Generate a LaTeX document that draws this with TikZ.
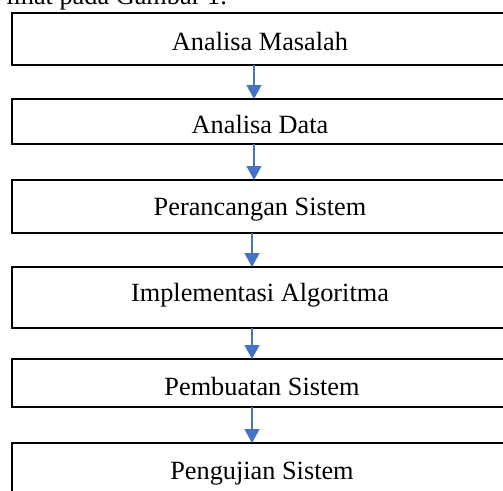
\documentclass[tikz,border=0pt]{standalone}
\usepackage{fontspec}
\setmainfont{Liberation Serif}
\usetikzlibrary{arrows.meta}
\definecolor{arrblue}{HTML}{4472C4}
\tikzset{
  stagebox/.style={draw=black, line width=2pt, rectangle, inner sep=0pt, outer sep=0pt, minimum width=498pt},
  stagetext/.style={anchor=base, inner sep=0pt, font=\fontsize{26.3pt}{30pt}\selectfont},
  flowarr/.style={draw=arrblue, line width=1.2pt, -{Triangle[width=15pt,length=14pt]}}
}
\begin{document}
\begin{tikzpicture}[x=1pt,y=-1pt]
\useasboundingbox (0,0) rectangle (503,490);
\clip (0,0) rectangle (503,490);
\node[stagetext, anchor=base east] (intro) at (227,4) {lihat pada Gambar 1.};
\node[stagebox, minimum height=52pt] (b1) at (261,39) {};
\node[stagebox, minimum height=45pt] (b2) at (261,121.5) {};
\node[stagebox, minimum height=53pt] (b3) at (261,206.5) {};
\node[stagebox, minimum height=61pt] (b4) at (261,297.5) {};
\node[stagebox, minimum height=48pt] (b5) at (261,383) {};
\node[stagebox, minimum height=57pt] (b6) at (261,471.5) {};
\node[stagetext] (t1) at (260,50) {Analisa Masalah};
\node[stagetext] (t2) at (260,133.3) {Analisa Data};
\node[stagetext] (t3) at (260,215) {Perancangan Sistem};
\node[stagetext] (t4) at (260,301.7) {Implementasi Algoritma};
\node[stagetext] (t5) at (262,395) {Pembuatan Sistem};
\node[stagetext] (t6) at (262,479) {Pengujian Sistem};
\coordinate (xa) at (254,0);
\coordinate (xb) at (252,0);
\draw[flowarr] (b1.south -| xa) -- (b2.north -| xa);
\draw[flowarr] (b2.south -| xa) -- (b3.north -| xa);
\draw[flowarr] (b3.south -| xb) -- (b4.north -| xb);
\draw[flowarr] (b4.south -| xb) -- (b5.north -| xb);
\draw[flowarr] (b5.south -| xb) -- (b6.north -| xb);
\end{tikzpicture}
\end{document}
